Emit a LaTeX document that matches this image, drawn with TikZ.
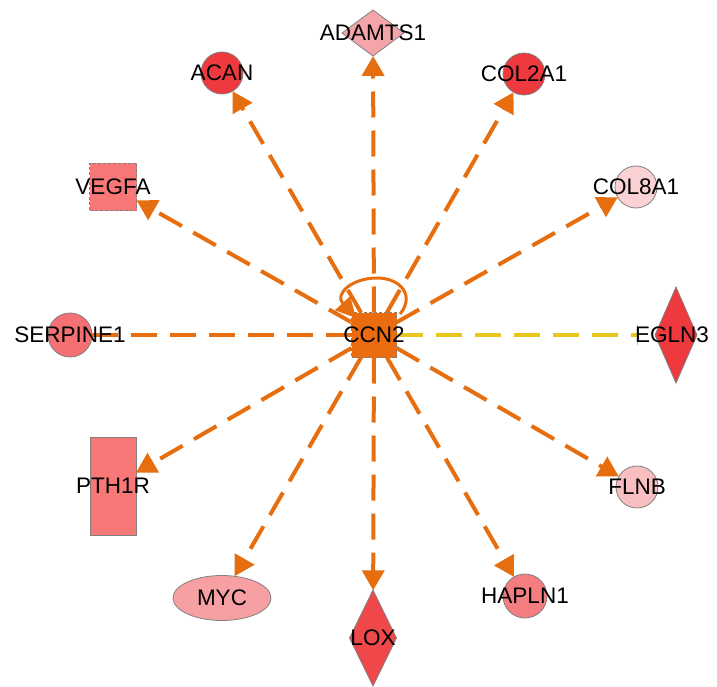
\documentclass[tikz,border=0pt]{standalone}
\usepackage{fontspec}
\setmainfont{Liberation Sans}
\usetikzlibrary{shapes.geometric,arrows.meta}
\definecolor{edgeor}{RGB}{230,110,15}
\definecolor{edgeyl}{RGB}{232,200,30}
\definecolor{ccnfill}{RGB}{235,108,15}
\definecolor{redA}{RGB}{238,58,62}
\definecolor{redLox}{RGB}{240,72,74}
\definecolor{pinkAdam}{RGB}{245,165,170}
\definecolor{salmon}{RGB}{248,120,120}
\definecolor{salmonS}{RGB}{244,112,114}
\definecolor{pinkCol8}{RGB}{250,210,212}
\definecolor{pinkFlnb}{RGB}{248,190,192}
\definecolor{pinkMyc}{RGB}{246,160,164}
\definecolor{pinkHap}{RGB}{244,125,128}
\definecolor{bord}{RGB}{128,128,128}
\tikzset{
  shp/.style={draw=bord, line width=0.8pt, inner sep=0pt, outer sep=0pt},
  circ/.style={shp, circle, minimum size=42pt},
  dia/.style={shp, diamond},
  lbl/.style={inner sep=0pt, font=\fontsize{22.5}{26}\selectfont, text=black},
  edge/.style={draw=edgeor, line width=4pt, dash pattern=on 26pt off 13pt, -{Triangle[length=20pt,width=22pt]}},
  edgenoarr/.style={draw=edgeor, line width=4pt, dash pattern=on 26pt off 13pt},
}
\begin{document}
\begin{tikzpicture}[x=1pt,y=-1pt]
\useasboundingbox (0,0) rectangle (717,687);
% shapes
\node[shp, rectangle, minimum size=45pt, fill=ccnfill, densely dashed] (ccn2) at (374,335) {};
\node[dia, fill=pinkAdam, minimum width=62pt, minimum height=46pt] (adamts1) at (373,33) {};
\node[circ, fill=redA] (acan) at (222,73) {};
\node[circ, fill=redA] (col2a1) at (524,74) {};
\node[shp, rectangle, minimum size=47pt, fill=salmon, densely dashed] (vegfa) at (113,187) {};
\node[circ, fill=pinkCol8] (col8a1) at (636,187) {};
\node[circ, fill=salmonS, minimum size=44pt] (serpine1) at (70,335) {};
\node[dia, fill=redA, minimum width=42pt, minimum height=96pt] (egln3) at (676,335) {};
\node[shp, rectangle, minimum width=46pt, minimum height=98pt, fill=salmon] (pth1r) at (113,486) {};
\node[circ, fill=pinkFlnb] (flnb) at (637,487) {};
\node[shp, ellipse, minimum width=98pt, minimum height=45pt, fill=pinkMyc] (myc) at (222,598) {};
\node[circ, fill=pinkHap, minimum size=44pt] (hapln1) at (525,596) {};
\node[dia, fill=redLox, minimum width=47pt, minimum height=96pt] (lox) at (373,638) {};
\coordinate (eglnend) at (637,335);
% edges
\draw[edge] (ccn2) -- (adamts1);
\draw[edge] (ccn2) -- (acan);
\draw[edge] (ccn2) -- (col2a1);
\draw[edge] (ccn2) -- (vegfa);
\draw[edge] (ccn2) -- (col8a1);
\draw[edgenoarr] (ccn2) -- (serpine1);
\draw[draw=edgeyl, line width=4pt, dash pattern=on 26pt off 13pt] (ccn2) -- (eglnend);
\draw[draw=edgeyl, line width=1pt] ([yshift=-10pt]eglnend) -- ([yshift=10pt]eglnend);
\draw[edge] (ccn2) -- (pth1r);
\draw[edge] (ccn2) -- (flnb);
\draw[edge] (ccn2) -- (myc);
\draw[edge] (ccn2) -- (hapln1);
\draw[edge] (ccn2) -- (lox);
% self loop
\draw[draw=edgeor, line width=3pt, -{Triangle[length=20pt,width=20pt]}]
  (400,314) .. controls (415,296) and (401,278) .. (377,278)
  .. controls (352,278) and (334,294) .. (356,318);
% labels
\node[lbl] (ccn2l) at (ccn2) {CCN2};
\node[lbl] (adamts1l) at (adamts1) {ADAMTS1};
\node[lbl] (acanl) at (acan) {ACAN};
\node[lbl] (col2a1l) at (col2a1) {COL2A1};
\node[lbl] (vegfal) at (vegfa) {VEGFA};
\node[lbl] (col8a1l) at (col8a1) {COL8A1};
\node[lbl] (serpine1l) at (serpine1) {SERPINE1};
\node[lbl] (egln3l) at (672,335) {EGLN3};
\node[lbl] (pth1rl) at (pth1r) {PTH1R};
\node[lbl] (flnbl) at (flnb) {FLNB};
\node[lbl] (mycl) at (myc) {MYC};
\node[lbl] (hapln1l) at (hapln1) {HAPLN1};
\node[lbl] (loxl) at (lox) {LOX};
\end{tikzpicture}
\end{document}
